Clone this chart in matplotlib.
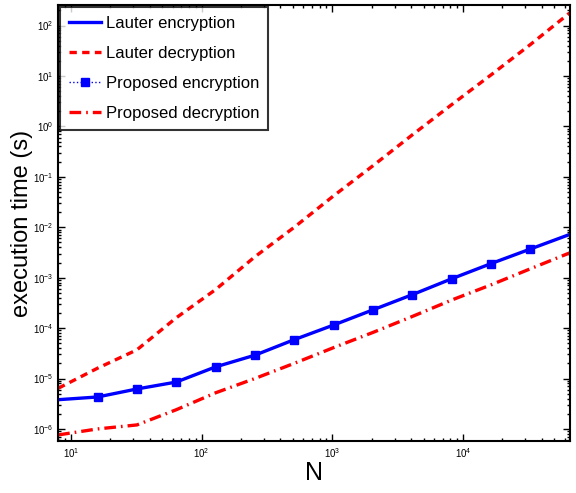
import matplotlib
matplotlib.use("Agg")
import matplotlib.pyplot as plt
import numpy as np

plt.rcParams['font.family'] = ['Liberation Sans', 'DejaVu Sans']
plt.rcParams['mathtext.fontset'] = 'custom'
plt.rcParams['mathtext.rm'] = 'Liberation Sans'

# --- data ---
N = [8, 16, 32, 64, 128, 256, 512, 1024, 2048, 4096, 8192, 16384, 32768, 65536]
lauter_enc = [3.8e-6, 4.3e-6, 6.2e-6, 8.5e-6, 1.7e-5, 2.9e-5, 5.9e-5, 1.15e-4,
              2.3e-4, 4.6e-4, 9.5e-4, 1.9e-3, 3.7e-3, 7.2e-3]
lauter_dec = [6.4e-6, 1.6e-5, 3.7e-5, 1.6e-4, 5.8e-4, 2.6e-3, 1.0e-2, 4.2e-2,
              0.166, 0.68, 2.7, 10.5, 42, 178]
prop_N = [16, 32, 64, 128, 256, 512, 1024, 2048, 4096, 8192, 16384, 32768]
prop_enc = [4.3e-6, 6.2e-6, 8.5e-6, 1.7e-5, 2.9e-5, 5.9e-5, 1.15e-4,
            2.3e-4, 4.6e-4, 9.5e-4, 1.9e-3, 3.7e-3]
prop_dec = [7.6e-7, 1.0e-6, 1.2e-6, 2.4e-6, 5.2e-6, 1.0e-5, 2.0e-5, 4.1e-5,
            8.2e-5, 1.7e-4, 3.6e-4, 7.2e-4, 1.5e-3, 3.1e-3]

fig = plt.figure(figsize=(5.76, 4.93), dpi=100)
ax = fig.add_axes([0.101, 0.105, 0.888, 0.885])

ax.plot(N, lauter_enc, color="blue", linestyle="-", linewidth=2.4, label="Lauter encryption")
ax.plot(N, lauter_dec, color="red", linestyle=(0, (2.2, 1.6)), linewidth=2.4, label="Lauter decryption")
ax.plot(prop_N, prop_enc, color="blue", linestyle=":", linewidth=1.0, marker="s",
        markersize=6, label="Proposed encryption")
ax.plot(N, prop_dec, color="red", linestyle=(0, (3.5, 1.5, 0.5, 1.5)), linewidth=2.4,
        label="Proposed decryption")

ax.set_xscale("log")
ax.set_yscale("log")
ax.set_xlim(8, 65536)
ax.set_ylim(5.7e-7, 257)
ax.set_yticks([10.0 ** k for k in range(-6, 3)])
ax.set_xticks([10, 100, 1000, 10000])

ax.tick_params(which="both", direction="in", top=True, right=True, labelsize=7, width=1.0)
ax.tick_params(which="major", length=5)
ax.tick_params(which="minor", length=2.5)
for s in ax.spines.values():
    s.set_linewidth(1.5)

ax.set_xlabel("N", fontsize=18, labelpad=1)
ax.set_ylabel("execution time (s)", fontsize=17, labelpad=0)

leg = ax.legend(loc="upper left", frameon=True, fancybox=False, fontsize=12,
                borderaxespad=0.1, handlelength=1.9, handletextpad=0.3,
                labelspacing=0.9, borderpad=0.55)
leg.get_frame().set_edgecolor("black")
leg.get_frame().set_linewidth(1.5)

plt.savefig("out.png", dpi=100)
